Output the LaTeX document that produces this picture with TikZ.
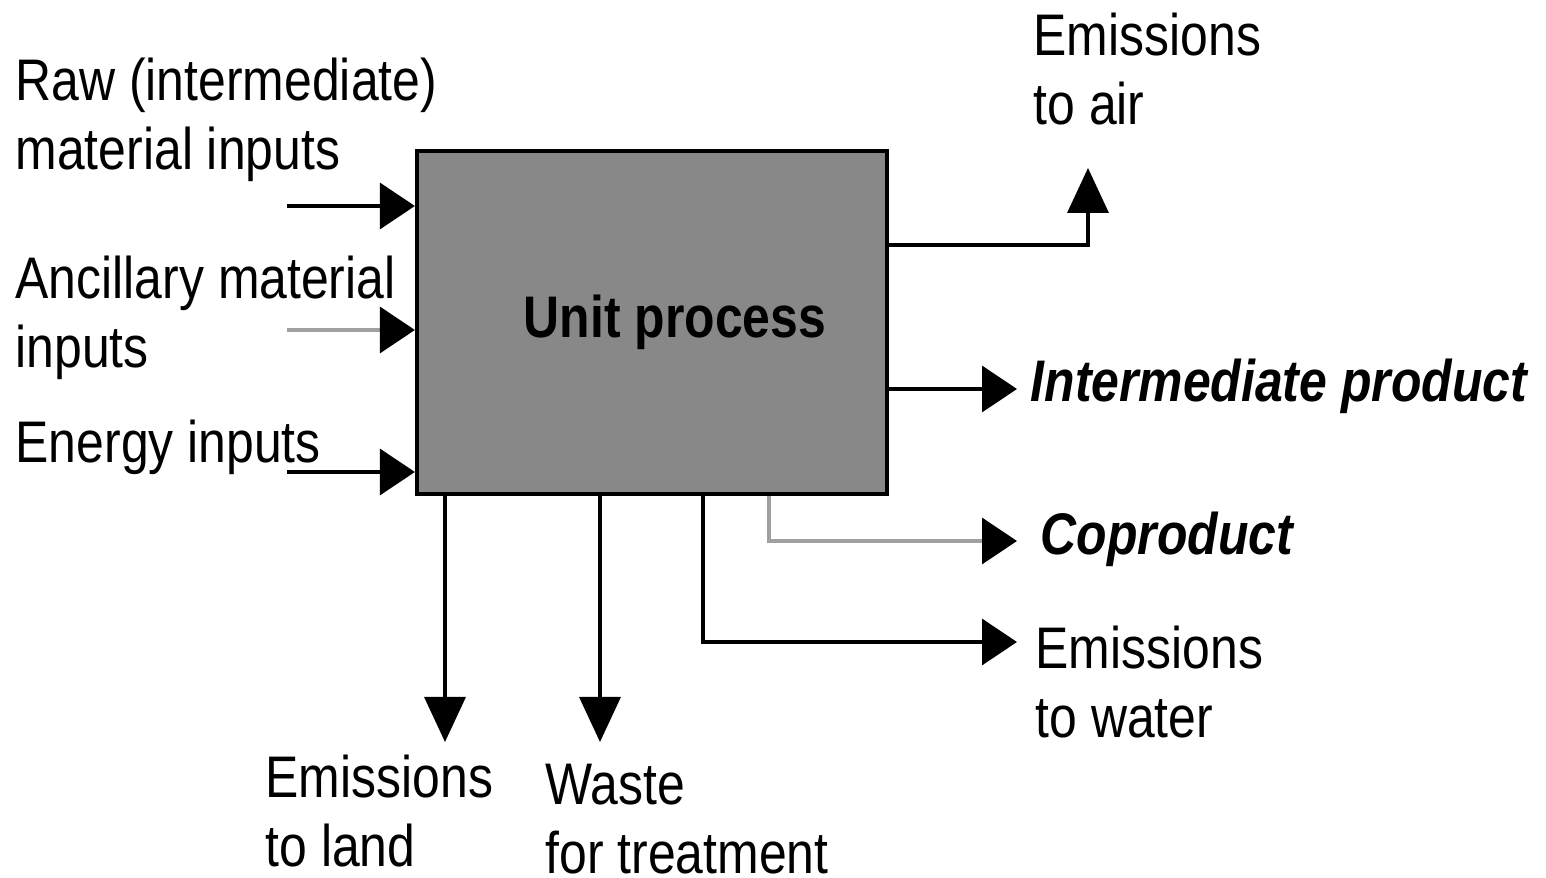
\documentclass[tikz,border=0pt]{standalone}
\usepackage{fontspec}
\setmainfont{Liberation Sans}[FakeStretch=0.85]
\usepackage{tikz}
\usetikzlibrary{arrows.meta, positioning}

\definecolor{boxgray}{HTML}{888888}
\definecolor{linegray}{HTML}{A0A0A0}

\begin{document}
\begin{tikzpicture}[
        unitbox/.style={draw, line width=1.2pt, fill=boxgray, inner sep=0pt,
                    minimum width=4.70cm, minimum height=3.43cm},
        lbl/.style={anchor=base west, inner sep=0pt, align=left,
                    font=\fontsize{16.7}{19.9}\selectfont},
        harr/.style={-{Triangle[length=0.35cm, width=0.46cm, color=black]}, line width=1pt},
        varr/.style={-{Triangle[length=0.45cm, width=0.41cm, color=black]}, line width=1pt}
    ]
        \useasboundingbox (0,0) rectangle (15.46,-8.78);

        % unit process
        \node[unitbox] (unit) at (6.52,-3.225) {};
        \node[font=\fontsize{16.7}{19.9}\selectfont\bfseries, anchor=base, inner sep=0pt]
            (unitlbl) at (6.75,-3.38) {Unit process};

        % inputs (base = last line)
        \node[lbl] (raw) at (0.15,-1.70) {Raw (intermediate)\\material inputs};
        \node[lbl] (anc) at (0.15,-3.68) {Ancillary material\\inputs};
        \node[lbl] (energy) at (0.15,-4.63) {Energy inputs};

        \coordinate (rawin) at (2.87,-2.06);
        \coordinate (ancin) at (2.87,-3.30);
        \coordinate (energyin) at (2.87,-4.72);

        \draw[harr] (rawin) -- (rawin -| unit.west);
        \draw[harr, linegray] (ancin) -- (ancin -| unit.west);
        \draw[harr] (energyin) -- (energyin -| unit.west);

        % outputs
        \node[lbl] (air) at (10.33,-1.25) {Emissions\\to air};
        \node[lbl, font=\fontsize{16.7}{19.9}\selectfont\bfseries\itshape]
            (inter) at (10.30,-4.02) {Intermediate product};
        \node[lbl, font=\fontsize{16.7}{19.9}\selectfont\bfseries\itshape]
            (coprod) at (10.40,-5.55) {Coproduct};
        \node[lbl] (water) at (10.35,-7.38) {Emissions\\to water};
        \node[lbl] (land) at (2.65,-8.67) {Emissions\\to land};
        \node[lbl] (waste) at (5.45,-8.74) {Waste\\for treatment};

        \coordinate (airtip) at (10.88,-1.68);
        \coordinate (intertip) at (10.17,-3.89);
        \coordinate (coprodtip) at (10.17,-5.41);
        \coordinate (watertip) at (10.17,-6.42);
        \coordinate (landtip) at (4.45,-7.42);
        \coordinate (wastetip) at (6.00,-7.42);

        \draw[varr] ([yshift=0.775cm]unit.east) -| (airtip);
        \draw[harr] ([yshift=-0.665cm]unit.east) -- (intertip);
        \draw[harr, linegray] ([xshift=1.17cm]unit.south) |- (coprodtip);
        \draw[harr] ([xshift=0.51cm]unit.south) |- (watertip);
        \draw[varr] ([xshift=-2.07cm]unit.south) -- (landtip);
        \draw[varr] ([xshift=-0.52cm]unit.south) -- (wastetip);
    \end{tikzpicture}
\end{document}
